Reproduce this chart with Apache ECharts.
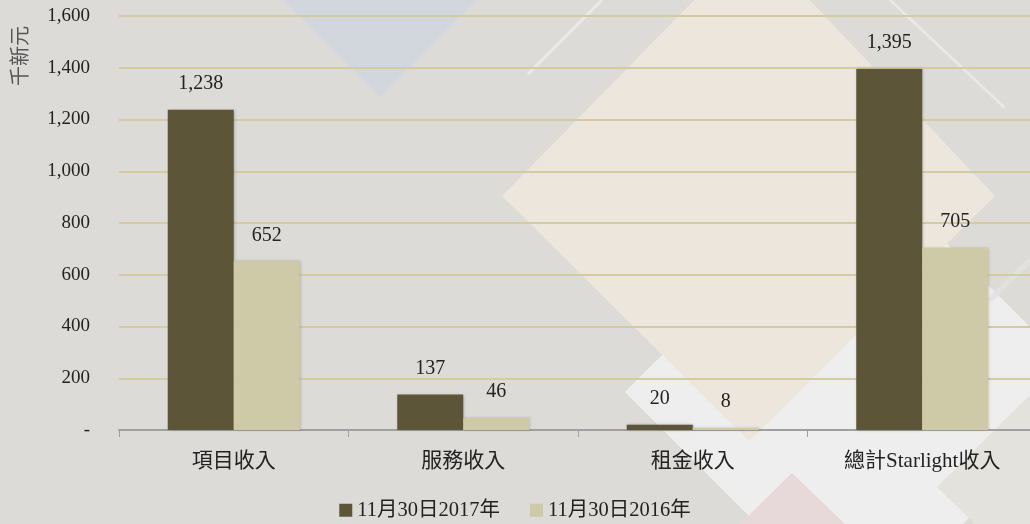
<!DOCTYPE html>
<html><head><meta charset="utf-8">
<script src="https://cdn.jsdelivr.net/npm/echarts@6/dist/echarts.min.js"></script>
<style>html,body{margin:0;padding:0;background:#DCDBD7;}#c{width:1030px;height:524px;}</style>
</head><body><div id="c"></div>
<script>
const categories = ['項目收入', '服務收入', '租金收入', '總計Starlight收入'];
const series2017 = [1238, 137, 20, 1395];
const series2016 = [652, 46, 8, 705];
const seriesNames = ['11月30日2017年', '11月30日2016年'];
const yTicks = [0, 200, 400, 600, 800, 1000, 1200, 1400, 1600];
const yAxisName = '千新元';

const FONT = "'Liberation Serif', 'Noto Sans CJK TC', serif";
const chart = echarts.init(document.getElementById('c'));
function poly(points, fill) {
  return { type: 'polygon', silent: true, z: -10, shape: { points: points }, style: { fill: fill } };
}
function line(x1, y1, x2, y2, color, w) {
  return { type: 'line', silent: true, z: -9, shape: { x1: x1, y1: y1, x2: x2, y2: y2 }, style: { stroke: color, lineWidth: w } };
}
chart.setOption({
  backgroundColor: '#DCDBD7',
  textStyle: { fontFamily: FONT },
  graphic: [
    poly([[283, 0], [477, 0], [380, 97]], '#D1D7DD'),
    poly([[625, 392], [860, 157], [1095, 392], [860, 627]], '#EFEEEE'),
    poly([[753, -60], [995, 196], [749, 441], [502, 196]], '#ECE6DC'),
    poly([[792, 473], [845, 524], [740, 524]], '#E7D9DA'),
    poly([[937, 487], [1030, 395], [1030, 524], [975, 524]], '#E3E2DC'),
    line(528, 74, 602, 0, 'rgba(240,240,240,0.7)', 3),
    line(890, 0, 1005, 108, 'rgba(240,240,240,0.6)', 3),
    line(990, 300, 1030, 260, 'rgba(225,225,225,0.9)', 6),
    { type: 'text', silent: true, z: 10, x: 22, y: 56, rotation: Math.PI / 2,
      style: { text: yAxisName, font: "20px " + FONT, fill: '#555', align: 'center', verticalAlign: 'middle' } }
  ],
  legend: {
    top: 495, left: 'center', itemWidth: 13, itemHeight: 13, itemGap: 30,
    icon: 'rect',
    textStyle: { fontSize: 20.5, color: '#222', fontFamily: FONT },
    data: seriesNames
  },
  grid: { left: 119, width: 918, top: 16, bottom: 94, containLabel: false, outerBoundsMode: 'none' },
  xAxis: {
    type: 'category', data: categories,
    axisLine: { lineStyle: { color: '#A0A0A0', width: 2 } },
    axisTick: { show: true, length: 7, lineStyle: { color: '#A0A0A0', width: 1 } },
    axisLabel: { fontSize: 21, color: '#222', margin: 21, fontFamily: FONT }
  },
  yAxis: {
    type: 'value', min: yTicks[0], max: yTicks[yTicks.length - 1], interval: 200,
    axisLine: { show: false }, axisTick: { show: false },
    splitLine: { lineStyle: { color: '#D4CBA2', width: 2 } },
    axisLabel: {
      fontSize: 19, color: '#222', margin: 29, fontFamily: FONT,
      formatter: v => v === 0 ? '-' : v.toLocaleString('en-US')
    }
  },
  series: [
    { name: seriesNames[0], type: 'bar', data: series2017, barWidth: 66, barGap: '0%',
      itemStyle: { color: '#5C5538', shadowBlur: 3, shadowColor: 'rgba(0,0,0,0.25)', shadowOffsetX: 1 },
      label: { show: true, position: 'top', distance: 16, fontSize: 20, color: '#222', fontFamily: FONT,
        formatter: p => p.value.toLocaleString('en-US') } },
    { name: seriesNames[1], type: 'bar', data: series2016, barWidth: 66,
      itemStyle: { color: '#CEC9A6', shadowBlur: 3, shadowColor: 'rgba(0,0,0,0.2)', shadowOffsetX: 1 },
      label: { show: true, position: 'top', distance: 16, fontSize: 20, color: '#222', fontFamily: FONT,
        formatter: p => p.value.toLocaleString('en-US') } }
  ]
});
</script></body></html>
